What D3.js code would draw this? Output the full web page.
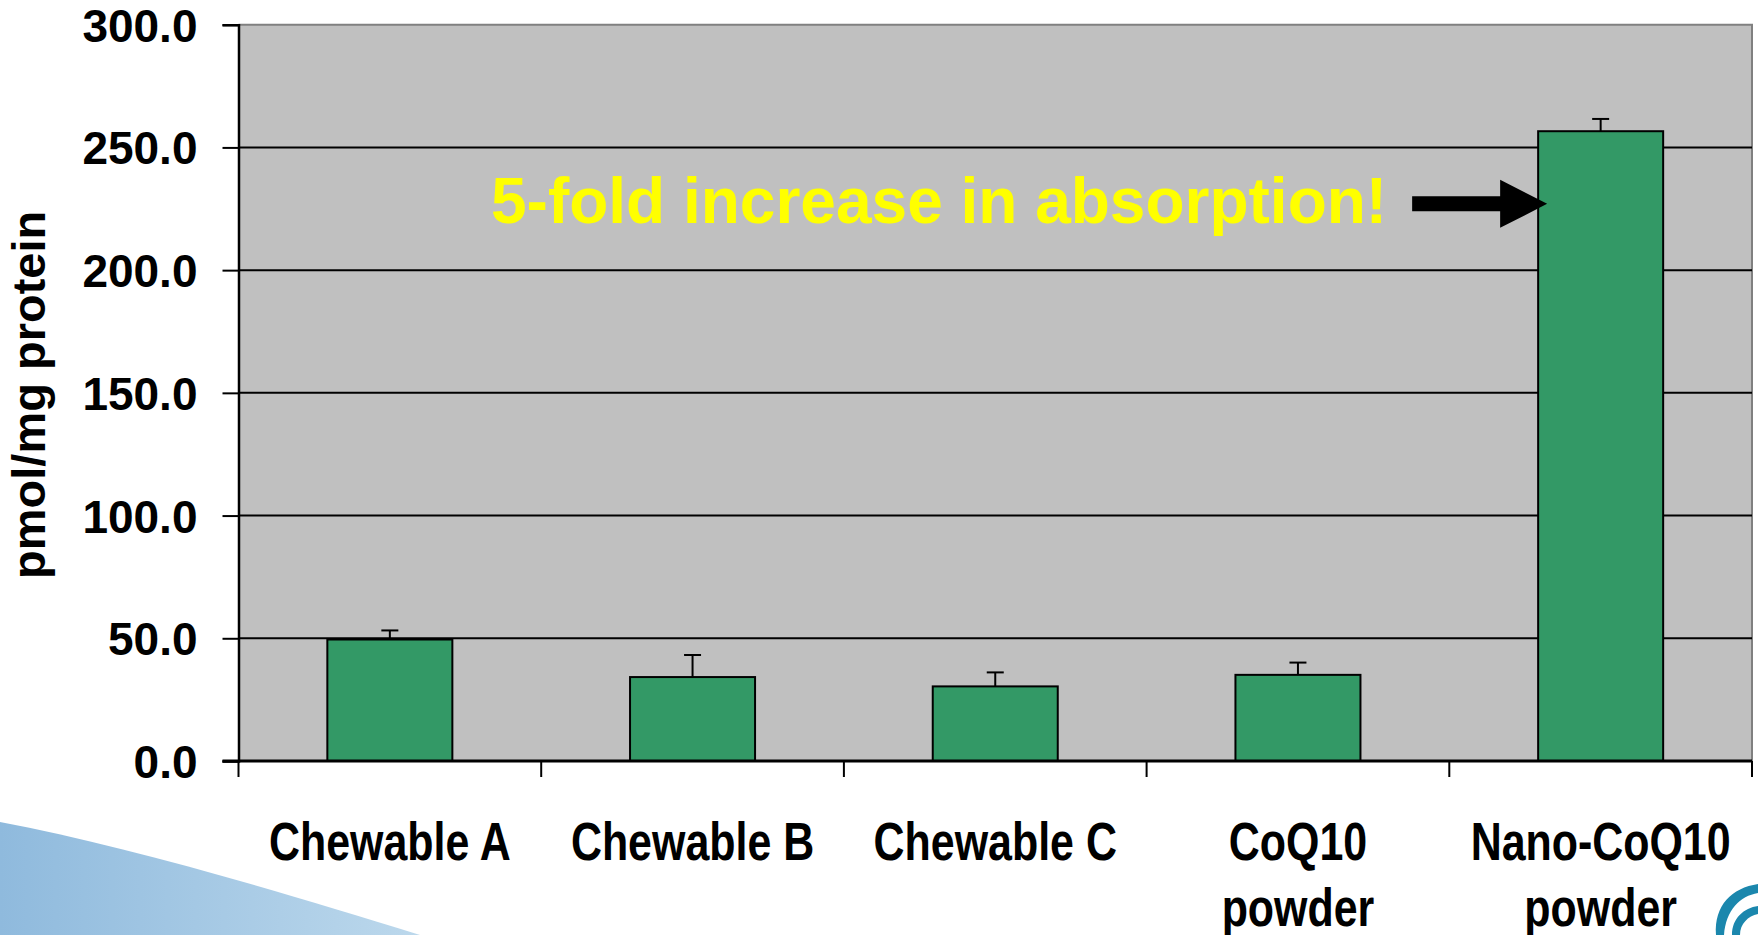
<!DOCTYPE html>
<html>
<head>
<meta charset="utf-8">
<script src="https://cdn.jsdelivr.net/npm/d3@7"></script>
<style>
  html, body { margin: 0; padding: 0; background: #ffffff; }
  svg { display: block; }
</style>
</head>
<body>
<svg id="chart" width="1758" height="935"></svg>
<script>
// ---- data ----
const categories = ["Chewable A", "Chewable B", "Chewable C", "CoQ10 powder", "Nano-CoQ10 powder"];
const labelLines = [["Chewable A"], ["Chewable B"], ["Chewable C"], ["CoQ10", "powder"], ["Nano-CoQ10", "powder"]];
const values = [49.5, 34.2, 30.4, 35.1, 256.6];
const errors = [3.7, 9.0, 5.7, 5.0, 5.0];
const yTicks = [0, 50, 100, 150, 200, 250, 300];
const yTitle = "pmol/mg protein";
const annotationText = "5-fold increase in absorption!";
const annotationValue = 227;

// ---- layout ----
const W = 1758, H = 935;
const plot = { left: 238.5, right: 1752, top: 24.7, bottom: 761 };

const svg = d3.select("#chart");

// decorative background swoosh (bottom-left)
const defs = svg.append("defs");
const grad = defs.append("linearGradient").attr("id", "swoosh").attr("x1", "0").attr("x2", "1").attr("y1", "0").attr("y2", "0");
grad.append("stop").attr("offset", "0").attr("stop-color", "#8fbadd");
grad.append("stop").attr("offset", "1").attr("stop-color", "#bcd8ec");
svg.append("path")
  .attr("d", "M0,822 C120,845 260,885 420,935 L0,935 Z")
  .attr("fill", "url(#swoosh)");

// logo fragment (bottom-right)
const logo = svg.append("g").attr("fill", "#1b87ad");
logo.append("path").attr("d", "M1716,935 C1714,905 1732,888 1758,884 L1758,893 C1740,896 1726,910 1724,935 Z");
logo.append("path").attr("d", "M1732,935 C1732,918 1744,908 1758,906 L1758,914 C1748,916 1740,924 1740,935 Z");

const x = d3.scaleBand()
  .domain(categories)
  .range([plot.left, plot.right])
  .paddingInner(0.587)
  .paddingOuter(0.2935);

const y = d3.scaleLinear()
  .domain([0, 300])
  .range([plot.bottom, plot.top]);

// plot background
svg.append("rect")
  .attr("x", plot.left).attr("y", y(300))
  .attr("width", plot.right - plot.left).attr("height", y(0) - y(300))
  .attr("fill", "#c0c0c0");

// top & right border (gray)
svg.append("path")
  .attr("d", `M${plot.left},${y(300)} H${plot.right} V${y(0)}`)
  .attr("fill", "none").attr("stroke", "#808080").attr("stroke-width", 2);

// gridlines
svg.append("g").selectAll("line")
  .data(yTicks.filter(d => d > 0 && d < 300))
  .join("line")
  .attr("x1", plot.left).attr("x2", plot.right)
  .attr("y1", d => y(d)).attr("y2", d => y(d))
  .attr("stroke", "#000").attr("stroke-width", 2);

// y axis
const yAxis = d3.axisLeft(y)
  .tickValues(yTicks)
  .tickSize(16)
  .tickPadding(25)
  .tickFormat(d3.format(".1f"));
const gy = svg.append("g")
  .attr("transform", `translate(${plot.left},0)`)
  .call(yAxis);
gy.select(".domain").attr("stroke", "#000").attr("stroke-width", 2.5);
gy.selectAll(".tick line").attr("stroke", "#000").attr("stroke-width", 2);
gy.selectAll(".tick text")
  .attr("fill", "#000")
  .attr("font-family", "'Liberation Sans', Arial, sans-serif")
  .attr("font-weight", "bold")
  .attr("font-size", 46)
  .attr("dy", "0.36em");

// bars
svg.append("g").selectAll("rect")
  .data(categories)
  .join("rect")
  .attr("x", d => x(d))
  .attr("y", (d, i) => y(values[i]))
  .attr("width", x.bandwidth())
  .attr("height", (d, i) => y(0) - y(values[i]))
  .attr("fill", "#339966")
  .attr("stroke", "#000")
  .attr("stroke-width", 2);

// error bars (upper only)
const eb = svg.append("g").attr("stroke", "#000").attr("stroke-width", 2);
categories.forEach((c, i) => {
  const cx = x(c) + x.bandwidth() / 2;
  eb.append("line").attr("x1", cx).attr("x2", cx)
    .attr("y1", y(values[i])).attr("y2", y(values[i] + errors[i]));
  eb.append("line").attr("x1", cx - 8.5).attr("x2", cx + 8.5)
    .attr("y1", y(values[i] + errors[i])).attr("y2", y(values[i] + errors[i]));
});

// x axis line and ticks at category boundaries
const step = x.step();
const boundaries = d3.range(categories.length + 1).map(i => plot.left + i * step);
svg.append("line")
  .attr("x1", plot.left - 16).attr("x2", plot.right)
  .attr("y1", y(0)).attr("y2", y(0))
  .attr("stroke", "#000").attr("stroke-width", 3);
svg.append("g").selectAll("line")
  .data(boundaries)
  .join("line")
  .attr("x1", d => d).attr("x2", d => d)
  .attr("y1", y(0)).attr("y2", y(0) + 16)
  .attr("stroke", "#000").attr("stroke-width", 2);

// x labels (condensed bold, like Arial Narrow)
categories.forEach((c, i) => {
  const cx = x(c) + x.bandwidth() / 2;
  const g = svg.append("g")
    .attr("transform", `translate(${cx},860) scale(0.81,1)`);
  const t = g.append("text")
    .attr("x", 0).attr("y", 0)
    .attr("font-family", "'Liberation Sans', Arial, sans-serif")
    .attr("font-weight", "bold")
    .attr("font-size", 53)
    .attr("text-anchor", "middle")
    .attr("fill", "#000");
  labelLines[i].forEach((ln, j) => {
    t.append("tspan")
      .attr("x", 0)
      .attr("dy", j === 0 ? 0 : 66)
      .text(ln);
  });
});

// y title
svg.append("text")
  .attr("transform", `translate(45,${(plot.top + plot.bottom) / 2 + 2}) rotate(-90)`)
  .attr("text-anchor", "middle")
  .attr("font-family", "'Liberation Sans', Arial, sans-serif")
  .attr("font-weight", "bold")
  .attr("font-size", 47)
  .attr("fill", "#000")
  .text(yTitle);

// annotation arrow
const nano = categories[categories.length - 1];
const tipX = x(nano) + 9;
const tipY = y(annotationValue);
svg.append("path")
  .attr("d", `M${tipX - 135},${tipY - 7.5} H${tipX - 47} V${tipY - 24} L${tipX},${tipY} L${tipX - 47},${tipY + 24} V${tipY + 7.5} H${tipX - 135} Z`)
  .attr("fill", "#000");

svg.append("text")
  .attr("x", tipX - 160)
  .attr("y", tipY + 19)
  .attr("text-anchor", "end")
  .attr("font-family", "'Liberation Sans', Arial, sans-serif")
  .attr("font-weight", "bold")
  .attr("font-size", 64)
  .attr("fill", "#ffff00")
  .text(annotationText);
</script>
</body>
</html>
